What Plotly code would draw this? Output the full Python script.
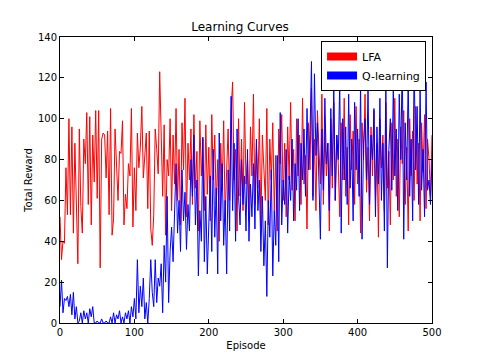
import plotly.graph_objects as go

# Episodes sampled every 2 steps
episodes = list(range(0, 501, 2))

lfa_reward = [
    52, 31, 40, 39, 76, 53, 100, 53, 96, 44, 88, 63, 29, 95, 57, 44, 90, 78, 103, 58,
    101, 48, 92, 69, 104, 61, 104, 27, 90, 93, 92, 71, 94, 53, 105, 43, 51, 95, 80, 60,
    84, 83, 99, 48, 63, 56, 78, 72, 105, 47, 76, 55, 93, 76, 86, 106, 71, 85, 93, 56,
    94, 46, 38, 53, 95, 85, 73, 123,
    88, 62, 97, 43, 80, 72, 100, 55, 92, 68,
    105, 60, 85, 48, 98, 75, 110, 52, 88, 70,
    95, 58, 102, 66, 84, 45, 99, 72, 90, 55,
    97, 63, 86, 50, 102, 70, 92, 58, 80, 40,
    88, 65, 99, 52, 75, 95, 60, 104, 118, 70,
    85, 45, 100, 62, 90, 55, 108, 68, 80, 50,
    96, 72, 112, 58, 88, 66, 100, 47, 92, 75,
    60, 105, 48, 90, 70, 98, 55, 82, 45, 95,
    78, 102, 60, 88, 52, 96, 70, 108, 65, 85,
    50, 100, 72, 92, 58, 110, 68, 82, 46, 98,
    75, 115, 62, 90, 55, 104, 80, 68, 112, 58,
    95, 72, 88, 45, 100, 66, 108, 60, 92, 78,
    52, 98, 70, 110, 62, 86, 48, 102, 75, 94,
    58, 106, 68, 90, 44, 98, 80, 112, 64, 86,
    50, 96, 72, 104, 60, 88, 42, 100, 76, 92,
    55, 108, 66, 84, 48, 98, 70, 110, 62, 90,
    52, 96, 78, 104, 58, 86, 45, 100, 72, 94,
    60, 106, 68, 88, 50, 98, 74, 102, 56, 90,
    80, 62, 92,
]

qlearning_reward = [
    8, 21, 5, 12, 11, 13, 8, 14, 4, 15,
    2, 8, 0, 1, 5, 0, 6, 2, 5, 0,
    7, 3, 8, 0, 0, 1, 0, 0, 2, 0,
    0, 1, 0, 0, 3, 0, 5, 0, 4, 2,
    6, 0, 3, 0, 5, 2, 6, 0, 8, 3,
    12, 2, 31, 5, 18, 8, 22, 2, 10, 0,
    12, 31, 15, 8, 31, 10, 22, 18, 29, 5,
    38, 20, 62, 10, 35, 47, 30, 55, 78, 44,
    60, 35, 75, 50, 64, 36, 58, 45, 80, 62,
    92, 48, 70, 23, 55, 40, 91, 30, 62, 24,
    50,
    72, 35, 85, 42, 66, 24, 93, 50, 78, 38,
    60, 24, 75, 45, 111, 55, 88, 40, 95, 62,
    48, 80, 58, 72, 45, 85, 40, 68, 52, 78,
    46, 90, 55, 70, 35, 62, 28, 50, 13, 60,
    42, 75, 23, 55, 38, 82, 30, 103, 48, 70,
    58, 85, 44, 72, 60, 90, 50, 78, 65, 100,
    55, 88, 70, 95, 62, 105, 75, 92, 128, 60,
    122, 82, 98, 70, 41, 95, 65, 110, 78, 88,
    55, 105, 72, 117, 60, 92, 80, 118, 44, 100,
    70, 96, 58, 112, 66, 90, 50, 108, 75, 95,
    62, 117, 41, 88, 100, 70, 115, 58, 92, 80,
    105, 52, 96, 68, 110, 60, 88, 45, 119, 27,
    85, 100, 65, 116, 72, 95, 55, 112, 80, 130,
    41, 98, 70, 120, 62, 90, 50, 128, 75, 106,
    58, 115, 65, 85, 52, 118, 65, 70, 58, 80,
]

series_names = ["LFA", "Q-learning"]
series_colors = ["#ff0000", "#0000ff"]

x_ticks = [0, 100, 200, 300, 400, 500]
y_ticks = [0, 20, 40, 60, 80, 100, 120, 140]

FONT = "DejaVu Sans"

fig = go.Figure()
for name, vals, col in zip(series_names, [lfa_reward, qlearning_reward], series_colors):
    fig.add_trace(go.Scatter(x=episodes, y=vals, mode="lines", name=name,
                             line=dict(color=col, width=1), showlegend=False,
                             hoverinfo="skip"))
# legend-only entries with wide patch-like symbols
for name, col in zip(series_names, series_colors):
    fig.add_trace(go.Scatter(x=[None], y=[None], mode="lines", name=name,
                             line=dict(color=col, width=8), showlegend=True))

axis_common = dict(
    showline=True, linecolor="black", linewidth=1, mirror="allticks",
    ticks="inside", ticklen=4, tickcolor="black", showgrid=False, zeroline=False,
    tickfont=dict(family=FONT, size=10, color="black"),
)

fig.update_layout(
    width=480, height=360,
    margin=dict(l=60, r=48, t=37, b=37),
    paper_bgcolor="white", plot_bgcolor="white",
    font=dict(family=FONT, size=10, color="black"),
    title=dict(text="Learning Curves", x=0.5, xanchor="center",
               yref="paper", y=1, yanchor="bottom", pad=dict(b=6),
               font=dict(family=FONT, size=12, color="black")),
    xaxis=dict(range=[0, 500], tickvals=x_ticks,
               title=dict(text="Episode", font=dict(family=FONT, size=10), standoff=4),
               **axis_common),
    yaxis=dict(range=[0, 140], tickvals=y_ticks,
               title=dict(text="Total Reward", font=dict(family=FONT, size=10), standoff=3),
               **axis_common),
    legend=dict(x=0.984, y=0.986, xanchor="right", yanchor="top",
                bgcolor="white", bordercolor="black", borderwidth=1,
                font=dict(family=FONT, size=11, color="black"),
                tracegroupgap=0, itemwidth=30),
    showlegend=True,
    hovermode=False,
)

fig.write_html("out.html",
               config={"displayModeBar": False, "staticPlot": False},
               post_script="document.body.style.margin='0';document.body.style.overflow='hidden';")
